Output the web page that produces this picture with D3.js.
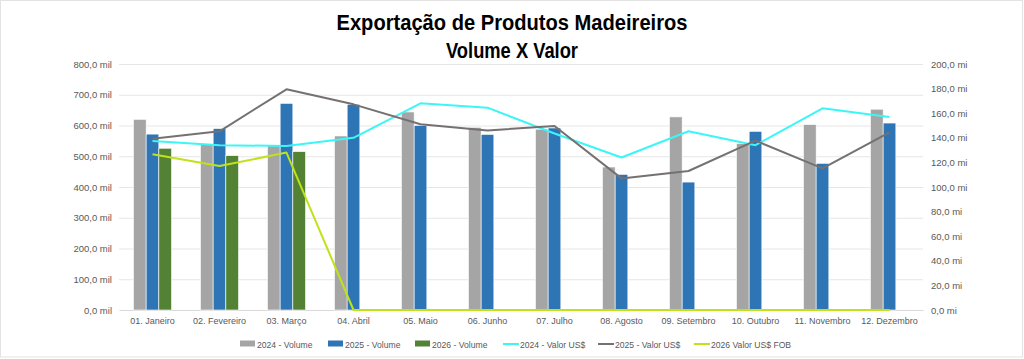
<!DOCTYPE html>
<html><head><meta charset="utf-8">
<script src="https://cdn.jsdelivr.net/npm/d3@7/dist/d3.min.js"></script>
<style>body{margin:0;background:#fff}svg{display:block}</style>
</head><body>
<svg id="c" width="1024" height="359"></svg>
<script>
const months = ["01. Janeiro","02. Fevereiro","03. Março","04. Abril","05. Maio","06. Junho","07. Julho","08. Agosto","09. Setembro","10. Outubro","11. Novembro","12. Dezembro"];
const vol2024 = [620,540,534,566,644,594,588,465,628,541,603,653];
const vol2025 = [572,590,672,669,600,571,592,441,416,581,477,608];
const vol2026 = [526,502,515,null,null,null,null,null,null,null,null,null];
const val2024 = [137.4,134,133.3,140,168,164.5,143.5,124,145.3,134,164,157];
const val2025 = [139.3,145.3,179.4,167.2,151,146,149.6,107,113,137.7,115.2,144.5];
const val2026 = [126.6,117,128,0,0,0,0,0,0,0,0,0];
const leftTicks = [0,100,200,300,400,500,600,700,800];
const rightTicks = [0,20,40,60,80,100,120,140,160,180,200];

const svg = d3.select("#c");
const font = "'Liberation Sans',Arial,sans-serif";
svg.append("rect").attr("x",0.5).attr("y",0.5).attr("width",1022).attr("height",356.5)
  .attr("fill","#fff").attr("stroke","#e3e3e3");

const L=119, R=923, T=64, B=310;
const x = d3.scaleBand().domain(months).range([L,R]);
const yL = d3.scaleLinear().domain([0,800]).range([B,T]);
const yR = d3.scaleLinear().domain([0,200]).range([B,T]);

// title
svg.append("text").attr("x",512).attr("y",30).attr("text-anchor","middle")
  .attr("font-family",font).attr("font-weight","bold").attr("font-size",22).attr("fill","#000")
  .attr("textLength",351).attr("lengthAdjust","spacingAndGlyphs")
  .text("Exportação de Produtos Madeireiros");
svg.append("text").attr("x",512).attr("y",58).attr("text-anchor","middle")
  .attr("font-family",font).attr("font-weight","bold").attr("font-size",22).attr("fill","#000")
  .attr("textLength",132).attr("lengthAdjust","spacingAndGlyphs")
  .text("Volume X Valor");

// grid
svg.append("g").selectAll("line").data(leftTicks.slice(1)).join("line")
  .attr("x1",L).attr("x2",R).attr("y1",d=>yL(d)+0.5).attr("y2",d=>yL(d)+0.5)
  .attr("stroke","#e6e6e6").attr("stroke-width",1);

// axes
const fmt = d => d3.format(".1f")(d).replace(".",",");
const gl = svg.append("g").attr("transform",`translate(${L},0)`)
  .call(d3.axisLeft(yL).tickValues(leftTicks).tickSize(0).tickPadding(7).tickFormat(d=>fmt(d)+" mil"));
const gr = svg.append("g").attr("transform",`translate(${R},0)`)
  .call(d3.axisRight(yR).tickValues(rightTicks).tickSize(0).tickPadding(8).tickFormat(d=>fmt(d)+" mi"));
[gl,gr].forEach(g=>{g.select(".domain").remove();
  g.selectAll("text").attr("font-family",font).attr("font-size",9.5).attr("fill","#595959");});
const gx = svg.append("g").attr("transform",`translate(0,${B})`)
  .call(d3.axisBottom(x).tickSize(0).tickPadding(8));
gx.select(".domain").attr("stroke","#d9d9d9");
gx.selectAll("text").attr("font-family",font).attr("font-size",9).attr("fill","#595959");

// bars
const inner = d3.scaleBand().domain([0,1,2]).range([0,x.bandwidth()]).paddingOuter(1.14);
const series = [{d:vol2024,c:"#A5A5A5"},{d:vol2025,c:"#2E75B6"},{d:vol2026,c:"#548235"}];
series.forEach((s,i)=>{
  svg.append("g").selectAll("rect").data(months.map((m,j)=>({m,v:s.d[j]})).filter(d=>d.v!=null)).join("rect")
    .attr("x",d=>x(d.m)+inner(i)).attr("width",inner.bandwidth())
    .attr("y",d=>yL(d.v)).attr("height",d=>B-yL(d.v))
    .attr("fill",s.c).attr("stroke","#fff").attr("stroke-width",0.6);
});

// lines
const line = d3.line().x((d,j)=>x(months[j])+x.bandwidth()/2).y(d=>yR(d));
[{d:val2024,c:"#3CF6F6"},{d:val2025,c:"#767171"},{d:val2026,c:"#BFE21A"}].forEach(s=>{
  svg.append("path").datum(s.d).attr("d",line).attr("fill","none")
    .attr("stroke",s.c).attr("stroke-width",2).attr("stroke-linejoin","round");
});

// legend
const leg = [
  {t:"2024 - Volume",c:"#A5A5A5",k:"r",x:240},
  {t:"2025 - Volume",c:"#2E75B6",k:"r",x:328},
  {t:"2026 - Volume",c:"#548235",k:"r",x:415},
  {t:"2024 - Valor US$",c:"#3CF6F6",k:"l",x:503},
  {t:"2025 - Valor US$",c:"#767171",k:"l",x:598},
  {t:"2026 Valor US$ FOB",c:"#BFE21A",k:"l",x:694}
];
const ly=344;
leg.forEach(l=>{
  if(l.k==="r") svg.append("rect").attr("x",l.x).attr("y",ly-3.5).attr("width",15).attr("height",6).attr("fill",l.c);
  else svg.append("line").attr("x1",l.x).attr("x2",l.x+16).attr("y1",ly).attr("y2",ly).attr("stroke",l.c).attr("stroke-width",2);
  svg.append("text").attr("x",l.x+17).attr("y",ly+3.5).attr("font-family",font).attr("font-size",8.6)
    .attr("fill","#595959").text(l.t);
});
</script>
</body></html>
